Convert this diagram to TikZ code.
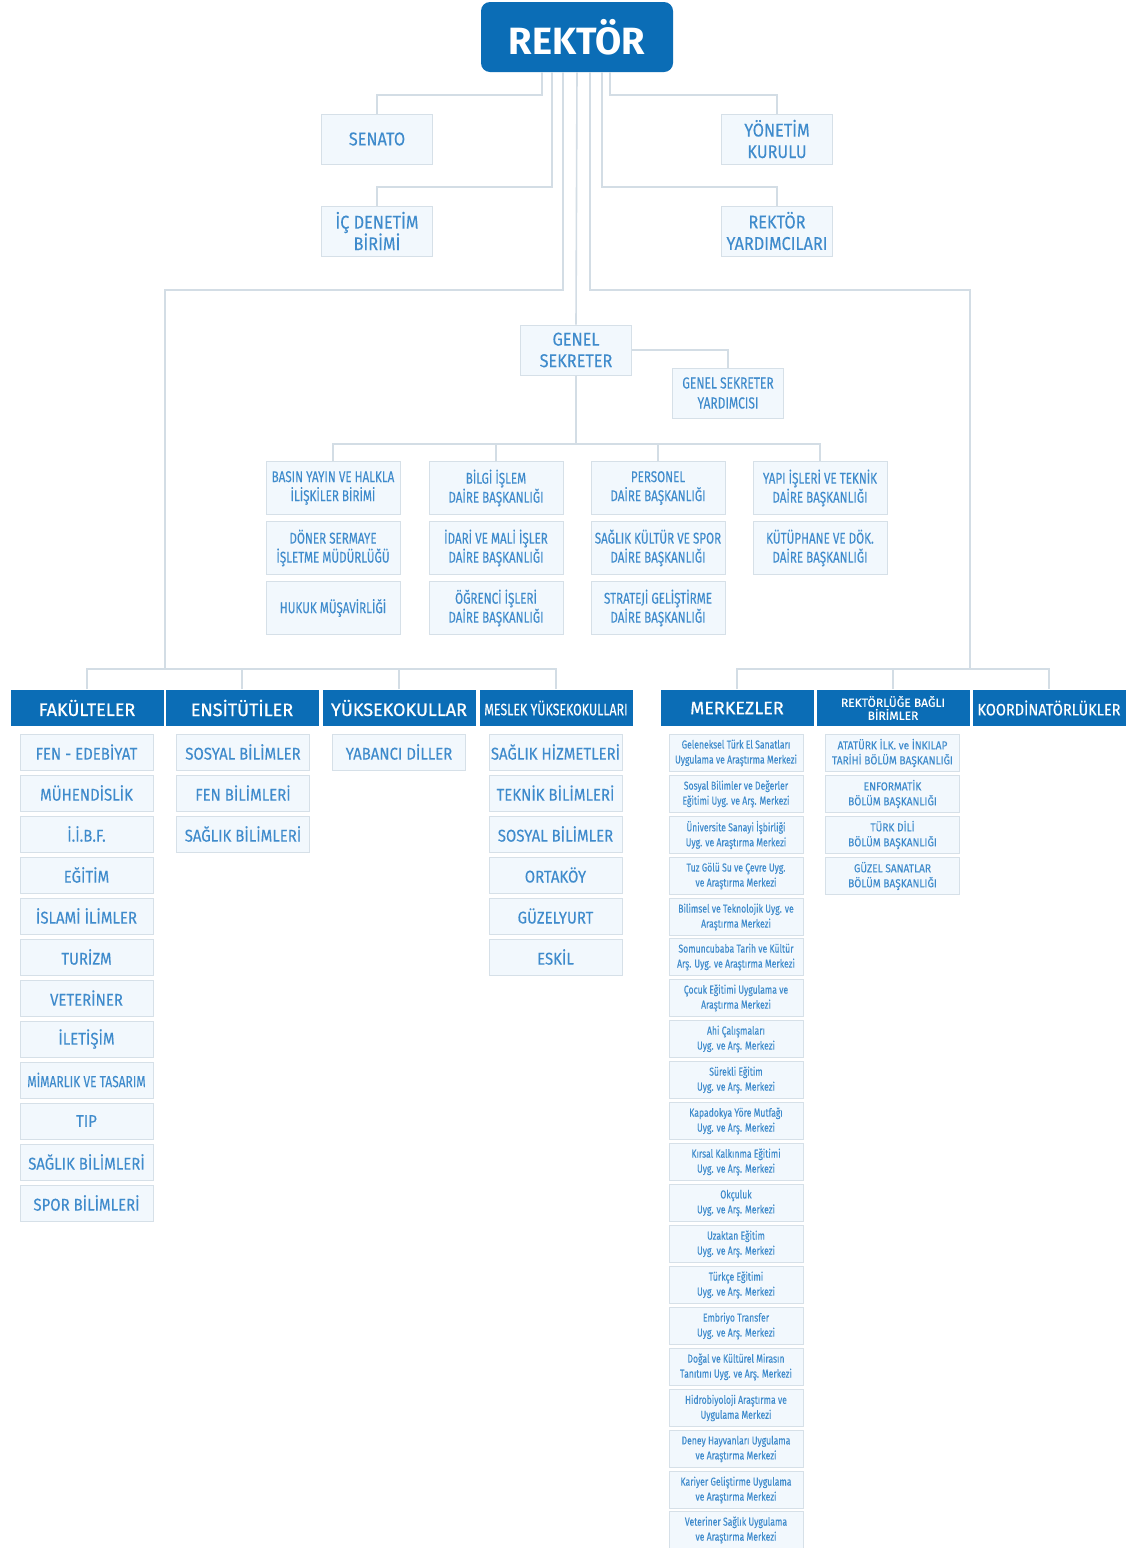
\documentclass[tikz,border=0pt]{standalone}
\usepackage{fontspec}
\setmainfont{Fira Sans}
\newfontfamily\headfont[FakeBold=0.6]{Fira Sans}
\newfontfamily\dinfont[FakeStretch=0.88, FakeBold=0.15]{Fira Sans}
\newfontfamily\dinnarrow[FakeStretch=0.75, FakeBold=0.15]{Fira Sans}
\newcommand{\fsz}[2]{\fontsize{#1}{#2}\selectfont}
\definecolor{rblue}{HTML}{0B6DB6}
\definecolor{txtblue}{HTML}{3F8BCC}
\definecolor{boxline}{HTML}{D6E0E8}
\definecolor{boxfill}{HTML}{F2F8FD}
\definecolor{linegray}{HTML}{D3DDE5}

\begin{document}
\begin{tikzpicture}[x = 1pt, y = -1pt,
    link/.style = {draw = linegray, line width = 1.6pt},
    unitbox/.style = {draw = boxline, fill = boxfill, line width = 1pt, text = txtblue, align = center, inner sep = 0pt, minimum width = 111pt, minimum height = 50pt, font = \dinfont\fsz{18.5}{21.5}},
    deptbox/.style = {unitbox, minimum width = 134pt, minimum height = 53pt, font = \dinnarrow\fsz{15.5}{19}},
    headbox/.style = {fill = rblue, draw = white, line width = 1pt, text = white, align = center, inner sep = 0pt, minimum width = 154pt, minimum height = 37pt, font = \headfont\fsz{18}{19}},
    listbox/.style = {unitbox, minimum width = 133pt, minimum height = 36pt, font = \dinfont\fsz{17}{18}},
    merkbox/.style = {unitbox, minimum width = 134pt, minimum height = 37pt, font = \dinnarrow\fsz{11.5}{15}}]
    \useasboundingbox (0,0) rectangle (1130,1548);
    \fill [white] (0,0) rectangle (1130,1548);

    % top
    \node [fill = rblue, rounded corners = 9pt, text = white, minimum width = 192pt, minimum height = 70pt, font = \bfseries\fsz{38}{40}] (rektor) at (577,37) {REKTÖR};
    \node [unitbox] (senato) at (377,139) {SENATO};
    \node [unitbox] (yonetim) at (777,139) {YÖNETİM\\KURULU};
    \node [unitbox] (icdenetim) at (377,231) {İÇ DENETİM\\BİRİMİ};
    \node [unitbox] (yardimci) at (777,231) {REKTÖR\\YARDIMCILARI};
    \node [unitbox] (gensek) at (576,350) {GENEL\\SEKRETER};
    \node [unitbox, font = \dinnarrow\fsz{16}{20}] (gsyard) at (728,393) {GENEL SEKRETER\\YARDIMCISI};

    \draw [link] ([xshift = -35pt]rektor.south) -- ++(0,23) -| (senato.north);
    \draw [link] ([xshift = -25pt]rektor.south) -- ++(0,115) -| (icdenetim.north);
    \draw [link] ([xshift = 33pt]rektor.south) -- ++(0,23) -| (yonetim.north);
    \draw [link] ([xshift = 25pt]rektor.south) -- ++(0,115) -| (yardimci.north);
    \draw [link] (rektor.south) to (gensek.north);
    \draw [link] (gensek.east) -| (gsyard.north);

    % daire baskanliklari
    \node [deptbox] (d11) at (333,488) {BASIN YAYIN VE HALKLA\\İLİŞKİLER BİRİMİ};
    \node [deptbox] (d12) at (333,548) {DÖNER SERMAYE\\İŞLETME MÜDÜRLÜĞÜ};
    \node [deptbox] (d13) at (333,608) {HUKUK MÜŞAVİRLİĞİ};
    \node [deptbox] (d21) at (496,488) {BİLGİ İŞLEM\\DAİRE BAŞKANLIĞI};
    \node [deptbox] (d22) at (496,548) {İDARİ VE MALİ İŞLER\\DAİRE BAŞKANLIĞI};
    \node [deptbox] (d23) at (496,608) {ÖĞRENCİ İŞLERİ\\DAİRE BAŞKANLIĞI};
    \node [deptbox] (d31) at (658,488) {PERSONEL\\DAİRE BAŞKANLIĞI};
    \node [deptbox] (d32) at (658,548) {SAĞLIK KÜLTÜR VE SPOR\\DAİRE BAŞKANLIĞI};
    \node [deptbox] (d33) at (658,608) {STRATEJİ GELİŞTİRME\\DAİRE BAŞKANLIĞI};
    \node [deptbox] (d41) at (820,488) {YAPI İŞLERİ VE TEKNİK\\DAİRE BAŞKANLIĞI};
    \node [deptbox] (d42) at (820,548) {KÜTÜPHANE VE DÖK.\\DAİRE BAŞKANLIĞI};

    \draw [link] (gensek.south) -- ++(0,69) coordinate (dhub);
    \draw [link] (d11.north) -- ++(0,-17) -| (d41.north);
    \draw [link] (d21.north) -- ++(0,-17);
    \draw [link] (d31.north) -- ++(0,-17);

    % birimler
    \node [headbox] (fak) at (87,708) {FAKÜLTELER};
    \node [headbox] (ens) at (242,708) {ENSİTÜTİLER};
    \node [headbox] (yo) at (399,708) {YÜKSEKOKULLAR};
    \node [headbox, font = \dinnarrow\fsz{16.5}{18}] (myo) at (556,708) {MESLEK YÜKSEKOKULLARI};
    \node [headbox] (merk) at (737,708) {MERKEZLER};
    \node [headbox, font = \headfont\fsz{12}{13}] (rbb) at (893,708) {REKTÖRLÜĞE BAĞLI\\BİRİMLER};
    \node [headbox, font = \dinfont\fsz{16.5}{18}] (koord) at (1049,708) {KOORDİNATÖRLÜKLER};

    \coordinate (lhub) at (165,670);
    \coordinate (rhub) at (970,670);
    \draw [link] ([xshift = -14pt]rektor.south) -- ++(0,218) -| (lhub);
    \draw [link] ([xshift = 13pt]rektor.south) -- ++(0,218) -| (rhub);
    \draw [link] (fak.north) -- ++(0,-20) -| (myo.north);
    \draw [link] (ens.north) -- ++(0,-20);
    \draw [link] (yo.north) -- ++(0,-20);
    \draw [link] (merk.north) -- ++(0,-20) -| (koord.north);
    \draw [link] (rbb.north) -- ++(0,-20);

    % fakulteler
    \node [listbox] (f1) at (86.5,752) {FEN - EDEBİYAT};
    \node [listbox] (f2) at (86.5,793) {MÜHENDİSLİK};
    \node [listbox] (f3) at (86.5,834) {İ.İ.B.F.};
    \node [listbox] (f4) at (86.5,875) {EĞİTİM};
    \node [listbox] (f5) at (86.5,916) {İSLAMİ İLİMLER};
    \node [listbox] (f6) at (86.5,957) {TURİZM};
    \node [listbox] (f7) at (86.5,998) {VETERİNER};
    \node [listbox] (f8) at (86.5,1039) {İLETİŞİM};
    \node [listbox, font = \dinnarrow\fsz{16}{18}] (f9) at (86.5,1080) {MİMARLIK VE TASARIM};
    \node [listbox] (f10) at (86.5,1121) {TIP};
    \node [listbox] (f11) at (86.5,1162) {SAĞLIK BİLİMLERİ};
    \node [listbox] (f12) at (86.5,1203) {SPOR BİLİMLERİ};

    % enstituler, yuksekokullar, myo
    \node [listbox] (e1) at (243,752) {SOSYAL BİLİMLER};
    \node [listbox] (e2) at (243,793) {FEN BİLİMLERİ};
    \node [listbox] (e3) at (243,834) {SAĞLIK BİLİMLERİ};
    \node [listbox] (y1) at (399,752) {YABANCI DİLLER};
    \node [listbox] (m1) at (555.5,752) {SAĞLIK HİZMETLERİ};
    \node [listbox] (m2) at (555.5,793) {TEKNİK BİLİMLERİ};
    \node [listbox] (m3) at (555.5,834) {SOSYAL BİLİMLER};
    \node [listbox] (m4) at (555.5,875) {ORTAKÖY};
    \node [listbox] (m5) at (555.5,916) {GÜZELYURT};
    \node [listbox] (m6) at (555.5,957) {ESKİL};

    % merkezler
    \node [merkbox] (c1) at (736,753) {Geleneksel Türk El Sanatları\\Uygulama ve Araştırma Merkezi};
    \node [merkbox] (c2) at (736,794) {Sosyal Bilimler ve Değerler\\Eğitimi Uyg. ve Arş. Merkezi};
    \node [merkbox] (c3) at (736,835) {Üniversite Sanayi İşbirliği\\Uyg. ve Araştırma Merkezi};
    \node [merkbox] (c4) at (736,876) {Tuz Gölü Su ve Çevre Uyg.\\ve Araştırma Merkezi};
    \node [merkbox] (c5) at (736,917) {Bilimsel ve Teknolojik Uyg. ve\\Araştırma Merkezi};
    \node [merkbox] (c6) at (736,957) {Somuncubaba Tarih ve Kültür\\Arş. Uyg. ve Araştırma Merkezi};
    \node [merkbox] (c7) at (736,998) {Çocuk Eğitimi Uygulama ve\\Araştırma Merkezi};
    \node [merkbox] (c8) at (736,1039) {Ahi Çalışmaları\\Uyg. ve Arş. Merkezi};
    \node [merkbox] (c9) at (736,1080) {Sürekli Eğitim\\Uyg. ve Arş. Merkezi};
    \node [merkbox] (c10) at (736,1121) {Kapadokya Yöre Mutfağı\\Uyg. ve Arş. Merkezi};
    \node [merkbox] (c11) at (736,1162) {Kırsal Kalkınma Eğitimi\\Uyg. ve Arş. Merkezi};
    \node [merkbox] (c12) at (736,1203) {Okçuluk\\Uyg. ve Arş. Merkezi};
    \node [merkbox] (c13) at (736,1244) {Uzaktan Eğitim\\Uyg. ve Arş. Merkezi};
    \node [merkbox] (c14) at (736,1285) {Türkçe Eğitimi\\Uyg. ve Arş. Merkezi};
    \node [merkbox] (c15) at (736,1326) {Embriyo Transfer\\Uyg. ve Arş. Merkezi};
    \node [merkbox] (c16) at (736,1367) {Doğal ve Kültürel Mirasın\\Tanıtımı Uyg. ve Arş. Merkezi};
    \node [merkbox] (c17) at (736,1408) {Hidrobiyoloji Araştırma ve\\Uygulama Merkezi};
    \node [merkbox] (c18) at (736,1449) {Deney Hayvanları Uygulama\\ve Araştırma Merkezi};
    \node [merkbox] (c19) at (736,1490) {Kariyer Geliştirme Uygulama\\ve Araştırma Merkezi};
    \node [merkbox] (c20) at (736,1530) {Veteriner Sağlık Uygulama\\ve Araştırma Merkezi};

    % rektorluge bagli birimler
    \node [merkbox, font = \dinfont\fsz{11.5}{15}] (b1) at (892.5,753) {ATATÜRK İLK. ve İNKILAP\\TARİHİ BÖLÜM BAŞKANLIĞI};
    \node [merkbox, font = \dinfont\fsz{11.5}{15}] (b2) at (892.5,794) {ENFORMATİK\\BÖLÜM BAŞKANLIĞI};
    \node [merkbox, font = \dinfont\fsz{11.5}{15}] (b3) at (892.5,835) {TÜRK DİLİ\\BÖLÜM BAŞKANLIĞI};
    \node [merkbox, font = \dinfont\fsz{11.5}{15}] (b4) at (892.5,876) {GÜZEL SANATLAR\\BÖLÜM BAŞKANLIĞI};
\end{tikzpicture}
\end{document}
